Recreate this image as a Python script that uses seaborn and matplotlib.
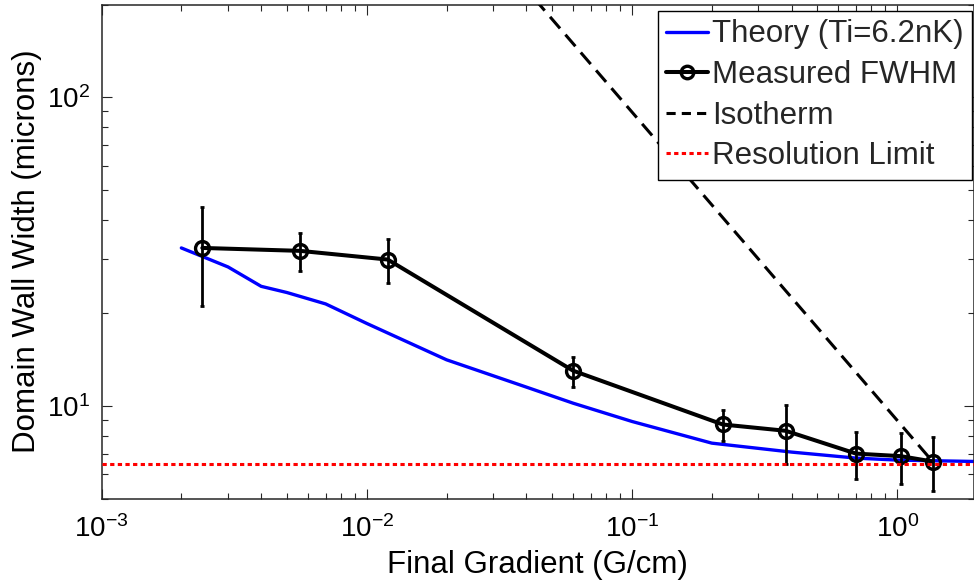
import numpy as np
import pandas as pd
import matplotlib
matplotlib.use("Agg")
import matplotlib.pyplot as plt
from matplotlib.lines import Line2D
from matplotlib.ticker import LogLocator, NullFormatter
import seaborn as sns

# ---------------- data ----------------
theory_x = [0.002, 0.003, 0.004, 0.005, 0.007, 0.01, 0.02, 0.04, 0.06, 0.1, 0.2, 0.4, 0.7, 1.0, 2.0]
theory_y = [32.5, 28.2, 24.4, 23.3, 21.4, 18.5, 14.1, 11.5, 10.2, 8.9, 7.57, 7.08, 6.77, 6.67, 6.60]

meas_x = [0.0024, 0.0056, 0.012, 0.060, 0.22, 0.38, 0.70, 1.03, 1.36]
meas_y = [32.5, 31.8, 29.8, 13.0, 8.7, 8.3, 7.0, 6.87, 6.6]
meas_err = [11.5, 4.5, 4.85, 1.45, 1.0, 1.8, 1.2, 1.27, 1.3]

iso_x = [0.04, 1.36]
iso_y = [224.0, 6.6]

resolution_limit = 6.5

legend_labels = ["Theory (Ti=6.2nK)", "Measured FWHM", "Isotherm", "Resolution Limit"]
x_label = "Final Gradient (G/cm)"
y_label = "Domain Wall Width (microns)"

# ---------------- style ----------------
sns.set_theme(style="ticks")
plt.rcParams["font.family"] = ["Liberation Sans", "DejaVu Sans"]
plt.rcParams["mathtext.fontset"] = "custom"
plt.rcParams["mathtext.rm"] = "Liberation Sans"
plt.rcParams["mathtext.it"] = "Liberation Sans:italic"
plt.rcParams["mathtext.bf"] = "Liberation Sans:bold"

W, H = 974, 588
fig = plt.figure(figsize=(W / 100, H / 100), dpi=100)
ax_l, ax_r, ax_t, ax_b = 101.5, 973.5, 4.5, 498.7
ax = fig.add_axes([ax_l / W, (H - ax_b) / H, (ax_r - ax_l) / W, (ax_b - ax_t) / H])
ax.set_xscale("log")
ax.set_yscale("log")

theory_df = pd.DataFrame({"x": theory_x, "y": theory_y})
meas_df = pd.DataFrame({"x": meas_x, "y": meas_y, "err": meas_err})
iso_df = pd.DataFrame({"x": iso_x, "y": iso_y})

blue = "#0000FF"
sns.lineplot(data=theory_df, x="x", y="y", ax=ax, color=blue, lw=2.4, zorder=2)

ax.errorbar(meas_df["x"], meas_df["y"], yerr=meas_df["err"], fmt="none",
            ecolor="black", elinewidth=2.0, capsize=1.5, capthick=2.0, zorder=3)
sns.lineplot(data=meas_df, x="x", y="y", ax=ax, color="black", lw=2.9,
             marker="o", markersize=10, markerfacecolor="none",
             markeredgecolor="black", markeredgewidth=2.4, zorder=4)

sns.lineplot(data=iso_df, x="x", y="y", ax=ax, color="black", lw=2.2, zorder=3)
ax.lines[-1].set_dashes([5, 2.7])

ax.axhline(resolution_limit, color="#FF0000", lw=2.2, dashes=[1.4, 1.1], zorder=5)

ax.set_xlim(1e-3, 1.94)
ax.set_ylim(5, 200)

ax.xaxis.set_major_locator(LogLocator(base=10, numticks=10))
ax.xaxis.set_minor_locator(LogLocator(base=10, subs=np.arange(2, 10), numticks=20))
ax.yaxis.set_major_locator(LogLocator(base=10, numticks=10))
ax.yaxis.set_minor_locator(LogLocator(base=10, subs=np.arange(2, 10), numticks=20))
ax.xaxis.set_minor_formatter(NullFormatter())
ax.yaxis.set_minor_formatter(NullFormatter())

tick_col = "#262626"
ax.tick_params(which="both", direction="in", top=True, right=True,
               color=tick_col, width=0.8, labelsize=20, labelcolor="black")
ax.tick_params(which="major", length=7.2, pad=8)
ax.tick_params(axis="x", which="major", pad=12)
ax.tick_params(which="minor", length=4.3)
for s in ax.spines.values():
    s.set_color(tick_col)
    s.set_linewidth(1.1)

lab_fs = 22.5
ax.set_xlabel(x_label, fontsize=lab_fs, color="black", labelpad=5)
ax.set_ylabel(y_label, fontsize=lab_fs, color="black", labelpad=4)

handles = [
    Line2D([], [], color=blue, lw=2.4),
    Line2D([], [], color="black", lw=2.9, marker="o", markersize=9,
           markerfacecolor="none", markeredgewidth=2.4),
    Line2D([], [], color="black", lw=2.2, dashes=[3, 2]),
    Line2D([], [], color="#FF0000", lw=2.2, dashes=[1.4, 1.1]),
]
leg = ax.legend(handles, legend_labels, loc="upper right",
                bbox_to_anchor=(972 / W, 1 - 11 / H), bbox_transform=fig.transFigure,
                borderaxespad=0, fontsize=lab_fs, frameon=True, fancybox=False,
                framealpha=1, edgecolor="black", handlelength=1.35,
                handletextpad=0.12, labelspacing=0.34, borderpad=0.27,
                numpoints=1)
leg.get_frame().set_linewidth(1.0)

fig.savefig("out.png", dpi=100)
